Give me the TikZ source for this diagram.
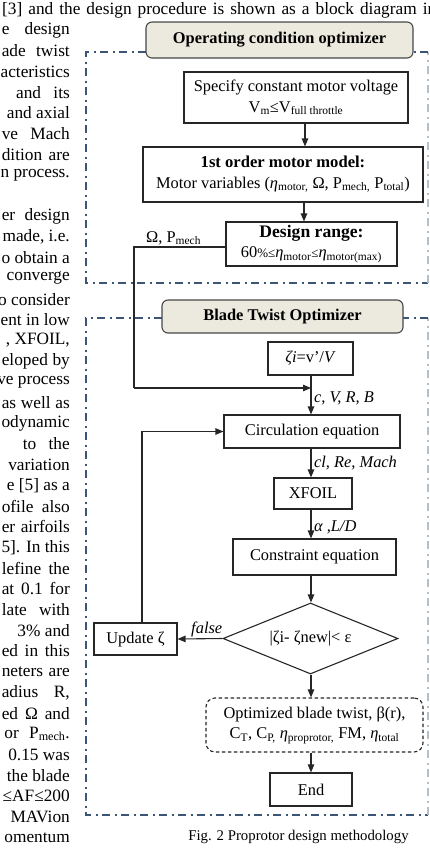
\documentclass[tikz,border=0pt]{standalone}
\usepackage{fontspec}
\setmainfont{Liberation Serif}
\usetikzlibrary{arrows.meta,shapes.geometric}
\definecolor{beige}{HTML}{ECEADF}
\definecolor{frmc}{HTML}{3B5577}
\definecolor{frml}{HTML}{B4BFCC}
\newcommand{\dfont}{\fontsize{16.4}{20.5}\selectfont}
\newcommand{\bodyfont}{\fontsize{17.3}{20.7}\selectfont}
\newcommand{\capfont}{\fontsize{14.8}{17}\selectfont}
\newcommand{\sbs}[1]{\textsubscript{#1}}
\newlength{\mytmpw}
\newcommand{\fitbox}[1]{\settowidth{\mytmpw}{#1}\ifdim\mytmpw<68pt\makebox[68pt][s]{#1}\else#1\fi}
\newcommand{\bl}[2]{\node[bodyline] (L#1) at (70,{30+20.7*#1}) {#2};}
\newcommand{\bs}[2]{\node[bodyline] (L#1) at (70,{30+20.7*#1}) {\fitbox{#2}};}
\tikzset{
  bodyline/.style={anchor=east, inner sep=0pt, font=\bodyfont},
  box/.style={draw=black!85, line width=1.1pt, fill=white, inner sep=0pt, align=center, font=\dfont},
  ttl/.style={draw=black!72, line width=1.1pt, fill=beige, rounded corners=6pt, inner sep=0pt, font=\dfont\bfseries},
  arr/.style={-{Triangle[length=8pt,width=6.5pt]}, line width=1.1pt, draw=black!85},
  lbl/.style={font=\dfont\itshape, inner sep=2.5pt},
  frame/.style={draw=frmc, line width=2pt, dash pattern=on 8pt off 4.5pt on 2pt off 4.5pt},
  framel/.style={draw=frml, line width=1.6pt, dash pattern=on 8pt off 4.5pt on 2pt off 4.5pt}
}
\begin{document}
\begin{tikzpicture}[x=1pt,y=-1pt]
\useasboundingbox (0,0) rectangle (429,855);
\clip (0,0) rectangle (429,855);
% body text of the page
\node[anchor=west, inner sep=0pt, font=\bodyfont] (top) at (2,10) {\makebox[434pt][s]{[3] and the design procedure is shown as a block diagram in}};
\bs{0}{e design}
\bs{1}{ade twist}
\bl{2}{acteristics}
\bl{3}{and\hspace{8pt} its}
\bl{4}{and axial}
\bs{5}{ve Mach}
\bs{6}{dition are}
\bs{7}{n process.}
\bs{9}{er design}
\bl{10}{made, i.e.}
\bs{11}{o obtain a}
\bl{12}{converge}
\bs{13}{o consider}
\bs{14}{ent in low}
\bl{15}{, XFOIL,}
\bs{16}{eloped by}
\bs{17}{ve process}
\bs{18}{as well as}
\bl{19}{odynamic}
\bl{20}{to\hspace{8pt} the}
\bl{21}{variation}
\bl{22}{e [5] as a}
\bs{23}{ofile also}
\bs{24}{er airfoils}
\bl{25}{5]. In this}
\bs{26}{lefine the}
\bs{27}{at 0.1 for}
\bs{28}{late with}
\bl{29}{3\% and}
\bs{30}{ed in this}
\bs{31}{neters are}
\bs{32}{adius R,}
\bs{33}{ed Ω and}
\bl{34}{or\hspace{6pt} P\sbs{mech}.}
\bl{35}{0.15 was}
\bl{36}{the blade}
\bl{37}{≤AF≤200}
\bl{38}{MAVion}
\bl{39}{omentum}
% frames
\draw[frame] (146,52) -- (86,52) -- (86,283) -- (428,283);
\draw[framel] (428,283) -- (428,52);
\draw[frame] (428,52) -- (413,52);
\draw[frame] (162,318) -- (86,318) -- (86,815) -- (428,815);
\draw[framel] (428,815) -- (428,318);
\draw[frame] (428,318) -- (403,318);
% operating condition optimizer
\node[ttl, minimum width=267pt, minimum height=36pt] (t1) at (279.5,40) {Operating condition optimizer};
\node[box, minimum width=224pt, minimum height=51pt] (b2) at (296,97.5) {Specify constant motor voltage\\V\sbs{m}≤V\sbs{full throttle}};
\node[box, minimum width=280pt, minimum height=55pt] (b3) at (283,174.5) {{\fontsize{16.6}{20}\selectfont\bfseries 1st order motor model:}\\Motor variables (\textit{η}\sbs{motor,} Ω, P\sbs{mech,} P\sbs{total})};
\node[box, minimum width=171pt, minimum height=44pt] (b4) at (311.5,244) {{\fontsize{17.6}{21}\selectfont\bfseries Design range:}\\60{\fontsize{13}{13}\selectfont\%≤}\textit{η}\sbs{motor}{\fontsize{13}{13}\selectfont≤}\textit{η}\sbs{motor(max)}};
% blade twist optimizer
\node[ttl, minimum width=241pt, minimum height=33pt] (t2) at (282.5,316.5) {Blade Twist Optimizer};
\node[box, minimum width=85pt, minimum height=33pt] (zeta) at (310.5,358.5) {\textit{ζi}=v’/\textit{V}};
\node[box, minimum width=176pt, minimum height=33pt] (circ) at (312,431.5) {Circulation equation};
\node[box, minimum width=78pt, minimum height=31pt] (xfoil) at (313,493.5) {XFOIL};
\node[box, minimum width=163pt, minimum height=36pt] (cons) at (314.5,557) {Constraint equation};
\node[draw=black!85, line width=1.1pt, diamond, aspect=2.46, inner sep=0pt, minimum width=175pt, minimum height=71pt] (dia) at (310.5,638.5) {};
\node[font=\dfont, inner sep=0pt] (diat) at (dia.center) {|ζi- ζnew|< ε};
\node[box, minimum width=83pt, minimum height=32pt] (upd) at (135.5,639) {Update ζ};
\node[box, dashed, dash pattern=on 3.5pt off 2.5pt, rounded corners=9pt, minimum width=217pt, minimum height=54pt] (opt) at (314.5,725) {Optimized blade twist, β(r),\\C\sbs{T}, C\sbs{P,} \textit{η}\sbs{proprotor,} FM, \textit{η}\sbs{total}};
\node[box, minimum width=82pt, minimum height=33pt] (end) at (311,789.5) {End};
% connectors
\coordinate (ax) at (311,0);
\coordinate (j) at (311,388);
\coordinate (lp) at (134,388);
\draw[arr] ([xshift=9pt]b2.south) -- ([xshift=9pt]b2.south |- b3.north);
\draw[arr] ([xshift=-7.5pt]b4.north |- b3.south) -- ([xshift=-7.5pt]b4.north);
\draw[line width=1.1pt, draw=black!85] ([yshift=-3pt]b4.west) -| (lp);
\draw[arr] (lp) -- (j);
\node[anchor=south west, inner sep=1pt, font=\dfont] (om) at (145,246) {Ω, P\sbs{mech}};
\draw[arr] (zeta.south -| ax) -- node[right, pos=0.58, lbl] (l1) {c, V, R, B} (circ.north -| ax);
\draw[arr] (circ.south -| ax) -- node[right, pos=0.5, lbl] (l2) {cl, Re, Mach} (xfoil.north -| ax);
\draw[arr] (xfoil.south -| ax) -- node[right, pos=0.6, lbl] (l3) {α ,L/D} (cons.north -| ax);
\draw[arr] (cons.south -| ax) -- (dia.north -| ax);
\draw[arr] (dia.west) -- node[above, pos=0.35, lbl, inner sep=1.5pt] (l4) {false} (upd.east);
\draw[arr] ([xshift=6.5pt]upd.north) |- (circ.west);
\draw[arr] (dia.south -| ax) -- (opt.north -| ax);
\draw[arr] (opt.south -| ax) -- (end.north -| ax);
% caption
\node[font=\capfont, inner sep=0pt] (cap) at (298.5,837) {Fig. 2 Proprotor design methodology};
\end{tikzpicture}
\end{document}
